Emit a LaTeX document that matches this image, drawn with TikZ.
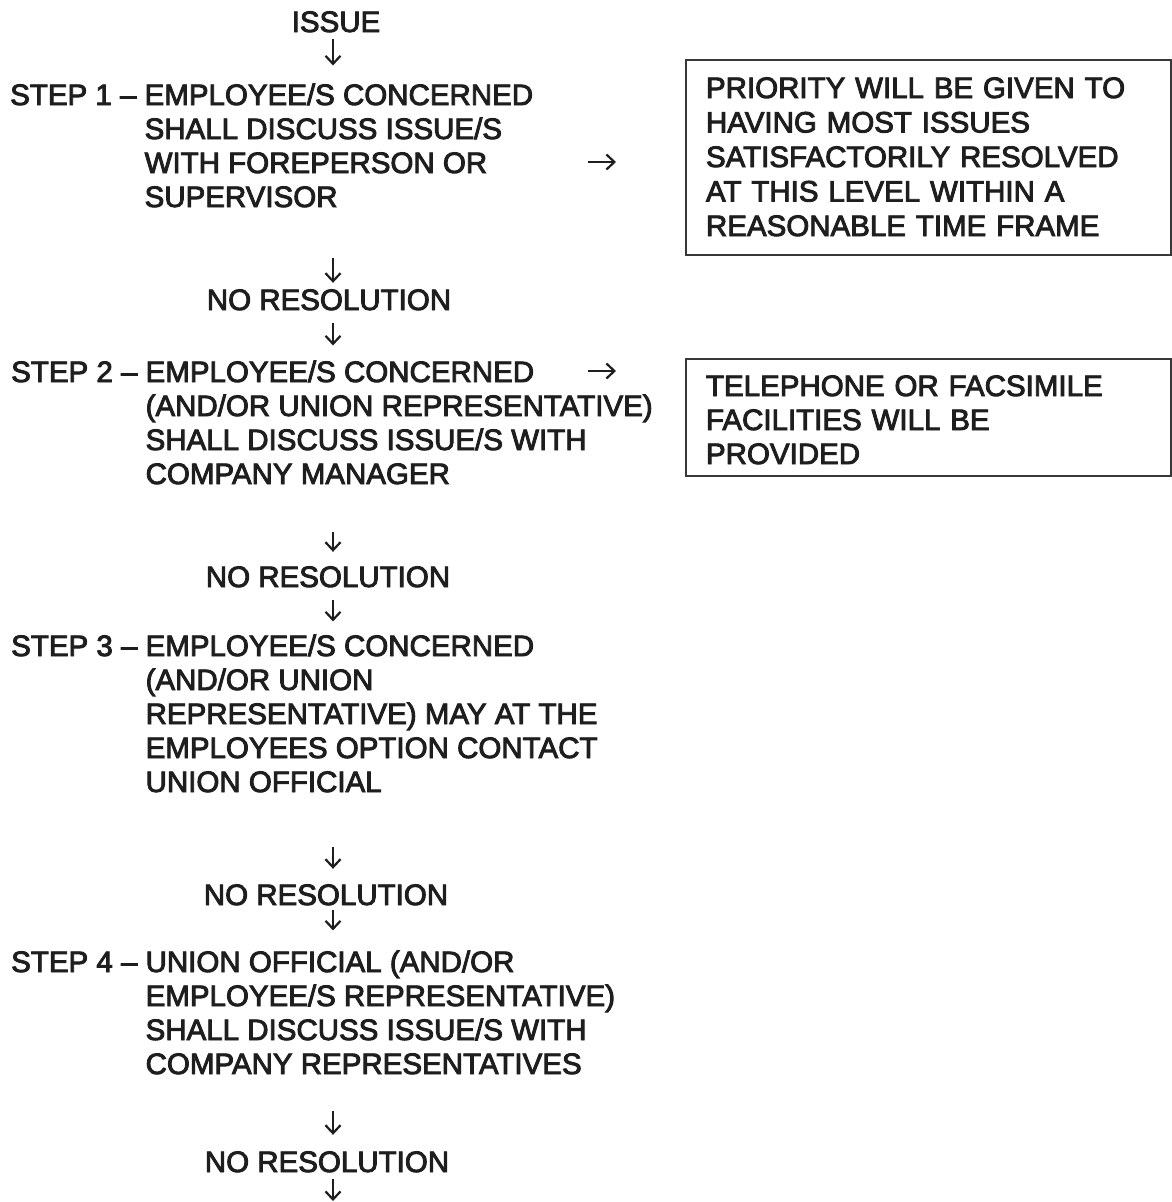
\documentclass[tikz,border=0pt]{standalone}
\usepackage{fontspec}
\newfontfamily\scanfont{Liberation Sans}
\usetikzlibrary{arrows.meta}
\definecolor{ink}{HTML}{1E1E1E}
\definecolor{frame}{HTML}{383838}
\newcommand\stepind[1]{\phantom{STEP #1 – }}
% slightly heavier strokes, like the scanned original
\newcommand\inkheavy{\special{pdf:literal direct 2 Tr 0.9 w}}
\begin{document}
\begin{tikzpicture}[x=1pt,y=-1pt,
  txt/.style={inner sep=0pt,font=\scanfont\fontsize{29.5}{34}\selectfont\inkheavy,text=ink},
  flowtext/.style={txt,anchor=base,text height=21pt,text depth=0pt},
  stepbox/.style={txt,align=left,anchor=base west},
  notebox/.style={txt,draw=frame,line width=2pt,anchor=north west,
    text width=445pt,align=left,inner xsep=20pt,inner ysep=11pt},
  arr/.style={draw=ink,line width=2.2pt,-{Straight Barb[length=8pt,width=15pt]}}]
\useasboundingbox[fill=white] (0,0) rectangle (1172,1202);
\coordinate (axis) at (333,0);

% left column (step nodes anchored at the baseline of their last line)
\node[flowtext] (issue) at (336,32) {ISSUE};
\node[stepbox] (s1) at (10,207) {STEP 1 – EMPLOYEE/S CONCERNED\\\stepind{1}SHALL DISCUSS ISSUE/S\\\stepind{1}WITH FOREPERSON OR\\\stepind{1}SUPERVISOR};
\node[flowtext] (nr1) at (329,310) {NO RESOLUTION};
\node[stepbox] (s2) at (11,484) {STEP 2 – EMPLOYEE/S CONCERNED\\\stepind{2}(AND/OR UNION REPRESENTATIVE)\\\stepind{2}SHALL DISCUSS ISSUE/S WITH\\\stepind{2}COMPANY MANAGER};
\node[flowtext] (nr2) at (328,587) {NO RESOLUTION};
\node[stepbox] (s3) at (11,792) {STEP 3 – EMPLOYEE/S CONCERNED\\\stepind{3}(AND/OR UNION\\\stepind{3}REPRESENTATIVE) MAY AT THE\\\stepind{3}EMPLOYEES OPTION CONTACT\\\stepind{3}UNION OFFICIAL};
\node[flowtext] (nr3) at (326,905) {NO RESOLUTION};
\node[stepbox] (s4) at (11,1074) {STEP 4 – UNION OFFICIAL (AND/OR\\\stepind{4}EMPLOYEE/S REPRESENTATIVE)\\\stepind{4}SHALL DISCUSS ISSUE/S WITH\\\stepind{4}COMPANY REPRESENTATIVES};
\node[flowtext] (nr4) at (327,1172) {NO RESOLUTION};
\coordinate (tail) at (333,1201);

% right column
\node[notebox,font=\scanfont\fontsize{29.5}{34.5}\selectfont\inkheavy] (box1) at (685,59)
  {\rule{0pt}{27pt}PRIORITY WILL BE GIVEN TO\\HAVING MOST ISSUES\\SATISFACTORILY RESOLVED\\AT THIS LEVEL WITHIN A\\REASONABLE TIME FRAME\rule[-8pt]{0pt}{8pt}};
\node[notebox] (box2) at (685,358)
  {\rule{0pt}{26pt}TELEPHONE OR FACSIMILE\\FACILITIES WILL BE\\PROVIDED\rule[-1pt]{0pt}{1pt}};

% downward arrows
\draw[arr,shorten <=7pt,shorten >=18pt] (issue.south -| axis) -- (s1.north -| axis);
\draw[arr,shorten <=51pt,shorten >=6pt] (s1.south -| axis) -- (nr1.north -| axis);
\draw[arr,shorten <=13pt,shorten >=15pt] (nr1.south -| axis) -- (s2.north -| axis);
\draw[arr,shorten <=48pt,shorten >=14pt] (s2.south -| axis) -- (nr2.north -| axis);
\draw[arr,shorten <=13pt,shorten >=13pt] (nr2.south -| axis) -- (s3.north -| axis);
\draw[arr,shorten <=55pt,shorten >=15pt] (s3.south -| axis) -- (nr3.north -| axis);
\draw[arr,shorten <=5pt,shorten >=20pt] (nr3.south -| axis) -- (s4.north -| axis);
\draw[arr,shorten <=36pt,shorten >=16pt] (s4.south -| axis) -- (nr4.north -| axis);
\draw[arr,shorten <=7pt] (nr4.south -| axis) -- (tail);

% rightward arrows
\coordinate (r1) at (588,162);
\coordinate (r2) at (588,371);
\draw[arr,shorten >=69pt] (r1) -- (box1.west |- r1);
\draw[arr,shorten >=69pt] (r2) -- (box2.west |- r2);
\end{tikzpicture}
\end{document}
